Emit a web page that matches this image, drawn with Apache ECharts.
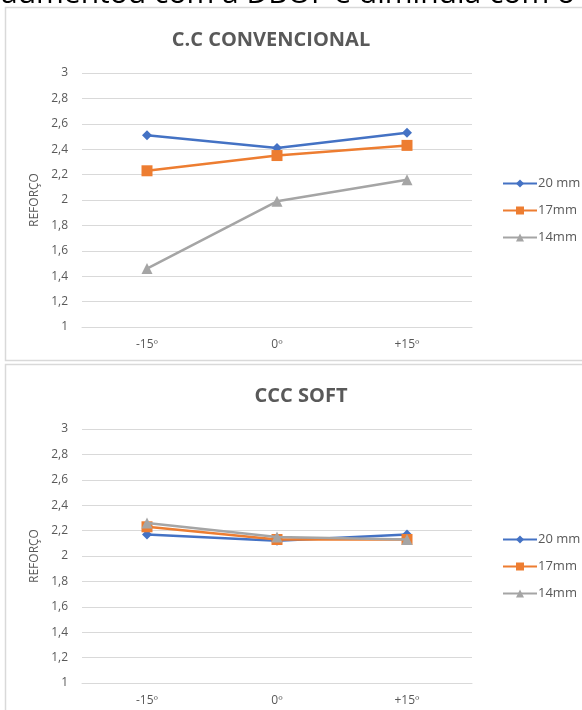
<!DOCTYPE html>
<html>
<head>
<meta charset="utf-8">
<script src="https://cdn.jsdelivr.net/npm/echarts@6/dist/echarts.min.js"></script>
<style>
html,body{margin:0;padding:0;background:#fff;}
#c{width:582px;height:710px;}
</style>
</head>
<body>
<div id="c"></div>
<script>
const categories = ['-15º', '0º', '+15º'];
const seriesNames = ['20 mm', '17mm', '14mm'];
const convencional20 = [2.51, 2.41, 2.53];
const convencional17 = [2.23, 2.35, 2.43];
const convencional14 = [1.46, 1.99, 2.16];
const soft20 = [2.17, 2.12, 2.17];
const soft17 = [2.23, 2.13, 2.13];
const soft14 = [2.26, 2.15, 2.13];
const yTicks = ['1', '1,2', '1,4', '1,6', '1,8', '2', '2,2', '2,4', '2,6', '2,8', '3'];
const topTitle = 'C.C CONVENCIONAL';
const bottomTitle = 'CCC SOFT';
const axisName = 'REFORÇO';
const cutText = 'aumentou com a DBOF e diminuía com o';

const colors = ['#4472C4', '#ED7D31', '#A5A5A5'];
const symbols = ['diamond', 'rect', 'triangle'];
const symbolSizes = [10, 11, 11];
const textColor = '#595959';
const font = '"Open Sans", "Liberation Sans", sans-serif';

function yLabel(v) {
  const idx = Math.round((v - 1) / 0.2);
  return yTicks[idx] !== undefined ? yTicks[idx] : '';
}

function makeSeries(idx, gridIdx, data) {
  return {
    name: seriesNames[idx],
    type: 'line',
    xAxisIndex: gridIdx,
    yAxisIndex: gridIdx,
    data: data,
    symbol: symbols[idx],
    symbolSize: symbolSizes[idx],
    showAllSymbol: true,
    lineStyle: { color: colors[idx], width: 2.5 },
    itemStyle: { color: colors[idx] },
    emphasis: { disabled: true },
    z: 3 + idx,
    animation: false
  };
}

const chart = echarts.init(document.getElementById('c'), null, { renderer: 'canvas' });

const xAxisBase = {
  type: 'category',
  data: categories,
  boundaryGap: true,
  axisLine: { show: true, lineStyle: { color: '#d9d9d9', width: 1 } },
  axisTick: { show: false },
  axisLabel: { color: textColor, fontSize: 12, fontFamily: font, margin: 12 },
  splitLine: { show: false }
};
const yAxisBase = {
  type: 'value',
  min: 1, max: 3, interval: 0.2,
  name: axisName,
  nameLocation: 'middle',
  nameRotate: 90,
  nameGap: 36,
  nameTextStyle: { color: textColor, fontSize: 12, fontFamily: font },
  axisLine: { show: false },
  axisTick: { show: false },
  axisLabel: { color: textColor, fontSize: 12, fontFamily: font, margin: 14, formatter: yLabel },
  splitLine: { show: true, lineStyle: { color: '#d9d9d9', width: 1.2 } }
};

const legendBase = {
  orient: 'vertical',
  left: 497,
  itemWidth: 34,
  itemHeight: 10,
  itemGap: 14,
  textStyle: { color: textColor, fontSize: 13, fontFamily: font, padding: [0, 0, 0, -4] },
  selectedMode: false
};

chart.setOption({
  animation: false,
  backgroundColor: '#fff',
  title: [
    { text: topTitle, left: 266, top: 25, textAlign: 'center',
      textStyle: { color: textColor, fontSize: 20, fontWeight: 'bold', fontFamily: font } },
    { text: bottomTitle, left: 296, top: 381, textAlign: 'center',
      textStyle: { color: textColor, fontSize: 20, fontWeight: 'bold', fontFamily: font } }
  ],
  legend: [
    Object.assign({}, legendBase, { top: 172, data: seriesNames.map(n => ({ name: n })) }),
    Object.assign({}, legendBase, { top: 528, data: seriesNames.map(n => ({ name: n })) })
  ],
  grid: [
    { left: 82, right: 110, top: 73, height: 254 },
    { left: 82, right: 110, top: 429, height: 254 }
  ],
  xAxis: [
    Object.assign({ gridIndex: 0 }, xAxisBase),
    Object.assign({ gridIndex: 1 }, xAxisBase)
  ],
  yAxis: [
    Object.assign({ gridIndex: 0 }, yAxisBase),
    Object.assign({ gridIndex: 1 }, yAxisBase)
  ],
  series: [
    makeSeries(0, 0, convencional20),
    makeSeries(1, 0, convencional17),
    makeSeries(2, 0, convencional14),
    makeSeries(0, 1, soft20),
    makeSeries(1, 1, soft17),
    makeSeries(2, 1, soft14)
  ],
  graphic: [
    { type: 'rect', silent: true, z: -1,
      shape: { x: 5.5, y: 7.5, width: 600, height: 353 },
      style: { fill: 'none', stroke: '#d9d9d9', lineWidth: 1.5 } },
    { type: 'rect', silent: true, z: -1,
      shape: { x: 5.5, y: 364.5, width: 600, height: 400 },
      style: { fill: 'none', stroke: '#d9d9d9', lineWidth: 1.5 } },
    { type: 'text', silent: true, z: 10,
      style: { text: cutText, x: 1, y: -21, font: '30px "Open Sans", sans-serif',
        fill: '#000', textAlign: 'left', verticalAlign: 'top' } }
  ]
});
</script>
</body>
</html>
